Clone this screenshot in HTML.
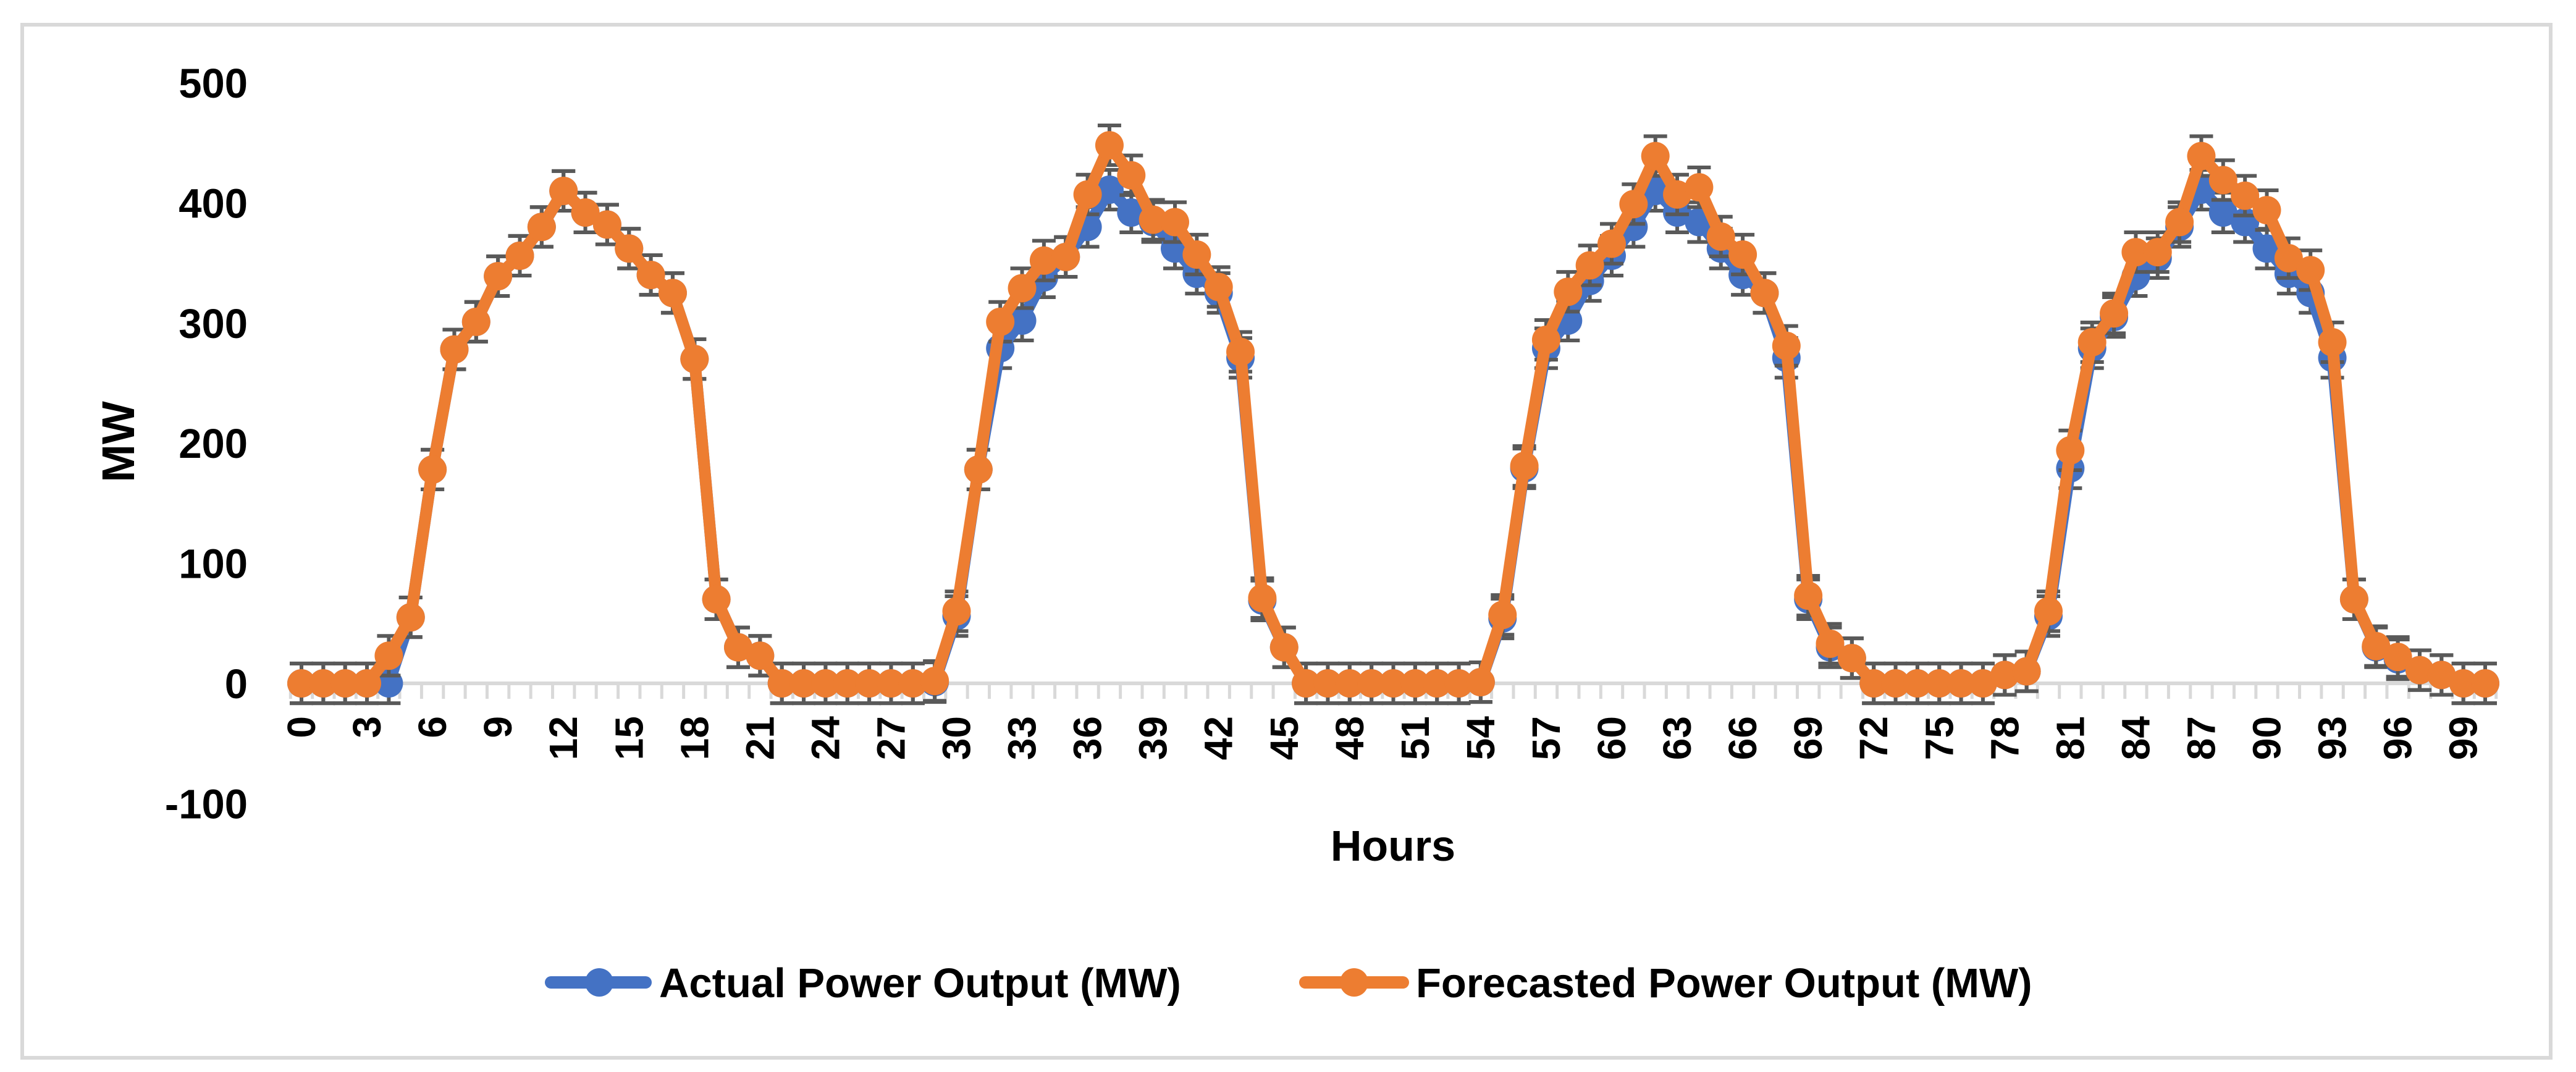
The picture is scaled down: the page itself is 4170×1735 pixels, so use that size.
<!DOCTYPE html>
<html><head><meta charset="utf-8"><style>
html,body{margin:0;padding:0;background:#fff;}
svg{display:block;font-family:"Liberation Sans",sans-serif;font-weight:bold;}
</style></head><body>
<svg id="chart" width="4170" height="1735" viewBox="0 0 4170 1735" xmlns="http://www.w3.org/2000/svg">
<rect x="36" y="40" width="4093" height="1672" fill="#fff" stroke="#d9d9d9" stroke-width="6"/>
<g id="yaxis"></g>
<g id="xaxis"></g>
<g id="series"></g>
<text x="0" y="0" transform="translate(217,715) rotate(-90)" text-anchor="middle" font-size="74" fill="#000">MW</text>
<text x="2255" y="1393" text-anchor="middle" font-size="70" fill="#000">Hours</text>
<g>
 <g>
  <line x1="892" y1="1590" x2="1045" y2="1590" stroke="#4472C4" stroke-width="20" stroke-linecap="round"/>
  <circle cx="970" cy="1590" r="23" fill="#4472C4"/>
  <text x="1067" y="1614" font-size="67" fill="#000">Actual Power Output (MW)</text>
 </g>
 <g>
  <line x1="2113" y1="1590" x2="2271" y2="1590" stroke="#ED7D31" stroke-width="20" stroke-linecap="round"/>
  <circle cx="2192" cy="1590" r="23" fill="#ED7D31"/>
  <text x="2292" y="1614" font-size="67" fill="#000">Forecasted Power Output (MW)</text>
 </g>
</g>
</svg>
<script>
const hours = Array.from({length:101}, (_, i) => i);
const actualMW = [0,0,0,0,0,55,178,278,301,339,356,380,410,392,382,362,340,325,270,70,30,23,0,0,0,0,0,0,0,1,
56,178,279,302,338,355,380,411,392,384,362,341,325,271,69,30,0,0,0,0,0,0,0,0,1,54,179,279,302,335,
356,380,410,392,384,362,340,325,271,70,30,21,0,0,0,0,0,0,7,10,56,179,279,305,339,354,380,411,392,384,
362,341,325,271,70,30,20,11,7,0,0];
const forecastMW = [0,0,0,0,23,55,178,278,301,339,356,380,410,392,382,362,340,325,270,70,30,23,0,0,0,0,0,0,0,2,
60,178,301,329,352,355,407,448,423,386,384,357,330,276,71,30,0,0,0,0,0,0,0,0,1,57,181,286,326,348,
366,399,439,407,413,372,357,325,281,73,33,21,0,0,0,0,0,0,7,10,60,194,284,308,359,359,384,439,419,406,
394,354,344,284,70,31,22,11,7,0,0];
const errorMW = [16.5, 16.5];
const yTicks = [-100,0,100,200,300,400,500];
const xLabelStep = 3;

const NS = "http://www.w3.org/2000/svg";
const X0 = 488, DX = 35.35, Y0 = 1106, PPU = 1.944;
function xs(i){ return X0 + i*DX; }
function ys(v){ return Y0 - v*PPU; }
function mk(tag, attrs, parent){
  const e = document.createElementNS(NS, tag);
  for (const k in attrs) e.setAttribute(k, attrs[k]);
  parent.appendChild(e);
  return e;
}
const yg = document.getElementById('yaxis');
yTicks.forEach(t => {
  const el = mk('text', {x:401, y:ys(t)+24, 'text-anchor':'end', 'font-size':67, fill:'#000'}, yg);
  
  
  el.textContent = t;
});
const xg = document.getElementById('xaxis');
const axisLine = mk('line', {x1:xs(-0.5), x2:xs(hours.length-0.5), y1:Y0, y2:Y0, stroke:'#d9d9d9', 'stroke-width':6}, xg);


for (let i = 0; i <= hours.length; i++) {
  const tk = mk('line', {x1:xs(i-0.5), x2:xs(i-0.5), y1:Y0, y2:Y0+25, stroke:'#d9d9d9', 'stroke-width':5}, xg);
  
  
}
hours.forEach((h, i) => {
  if (h % xLabelStep !== 0) return;
  const el = mk('text', {x:0, y:0, transform:`translate(${xs(i)+22},1159) rotate(-90)`, 'text-anchor':'end', 'font-size':64, fill:'#000'}, xg);
  
  
  el.textContent = h;
});
const sg = document.getElementById('series');
function drawSeries(vals, err, color, name){
  const g = mk('g', {}, sg);
  
  
  vals.forEach((v, i) => {
    const x = xs(i), y1 = ys(v+err), y2 = ys(v-err);
    const eb = mk('path', {d:`M${x},${y1}V${y2}M${x-19},${y1}H${x+19}M${x-19},${y2}H${x+19}`, stroke:'#595959', 'stroke-width':6, fill:'none'}, g);
    
    
  });
  const pts = vals.map((v, i) => xs(i) + ',' + ys(v)).join(' ');
  const pl = mk('polyline', {points:pts, fill:'none', stroke:color, 'stroke-width':19, 'stroke-linejoin':'round', 'stroke-linecap':'round'}, g);
  
  
  vals.forEach((v, i) => {
    const c = mk('circle', {cx:xs(i), cy:ys(v), r:23, fill:color}, g);
    
    
  });
}
drawSeries(actualMW, errorMW[0], '#4472C4', 'actual-series');
drawSeries(forecastMW, errorMW[1], '#ED7D31', 'forecast-series');
</script>
</body></html>
